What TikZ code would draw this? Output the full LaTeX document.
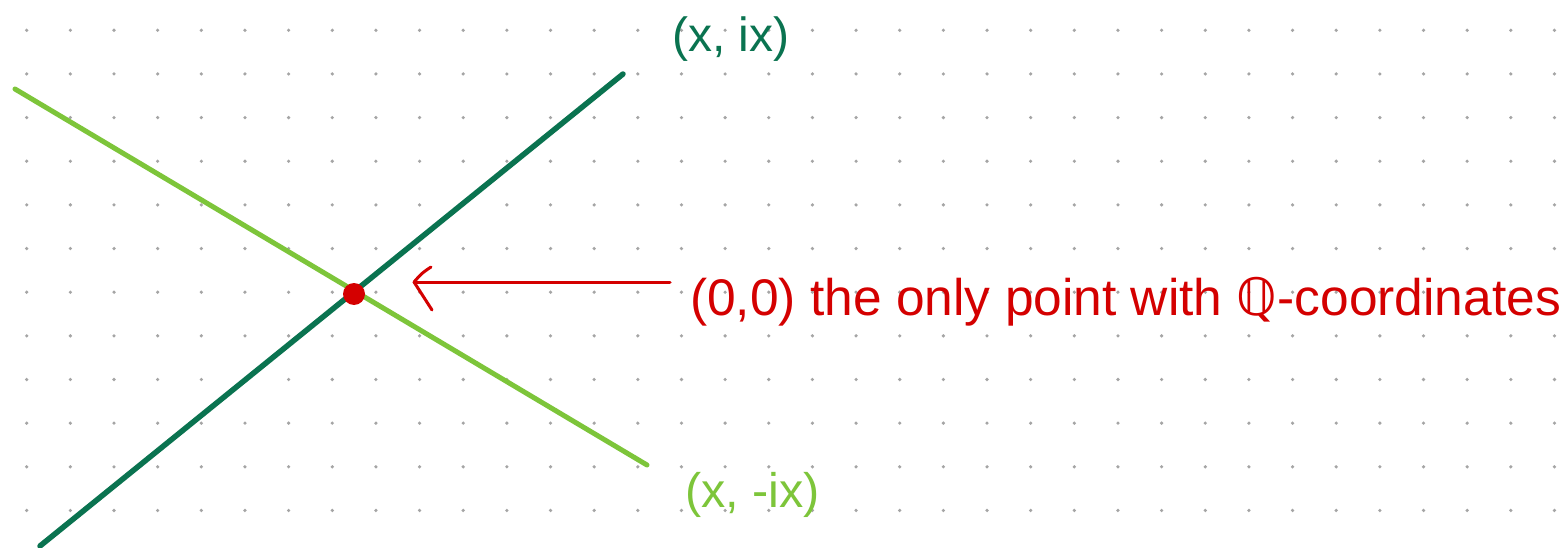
\documentclass[tikz,border=0pt]{standalone}
\usepackage{fontspec}
\setmainfont{Liberation Sans}
\newfontfamily\symfont{DejaVu Sans}
\definecolor{dkgreen}{RGB}{10,115,80}
\definecolor{ltgreen}{RGB}{125,197,58}
\definecolor{myred}{RGB}{212,0,0}
\definecolor{dotgray}{RGB}{165,165,165}
\begin{document}
\begin{tikzpicture}[x=1pt,y=-1pt,
  gdot/.style={fill=dotgray,draw=none},
  lineA/.style={draw=dkgreen,line width=5.5pt,line cap=round},
  lineB/.style={draw=ltgreen,line width=5pt,line cap=round},
  redline/.style={draw=myred,line width=3pt,line cap=round,line join=round},
  lbl/.style={inner sep=0pt,anchor=base west}]
\useasboundingbox (0,0) rectangle (1564,548);
\fill[white] (0,0) rectangle (1564,548);
\foreach \i in {0,...,35}{
  \foreach \j in {0,...,11}{
    \fill[gdot] ({26.7+43.65*\i},{30.3+43.65*\j}) circle (1.8);
  }
}
\coordinate (a1) at (40,546);
\coordinate (a2) at (623,74);
\coordinate (b1) at (15,89);
\coordinate (b2) at (647,465);
\draw[lineB] (b1) -- (b2);
\draw[lineA] (a1) -- (a2);
\node[circle,fill=myred,inner sep=0pt,minimum size=22pt] (origin) at (354,294) {};
\coordinate (tip) at (414,282);
\coordinate (tail) at (670,282);
\coordinate (h1) at (431,267);
\coordinate (h2) at (432,310);
\draw[redline] (tail) -- (tip);
\draw[redline] (h1) .. controls (422,273) .. (tip) -- (h2);
\node[lbl,text=myred,font=\fontsize{51.5}{60}\selectfont] (txt) at (690,315) {(0,0) the only point with {\symfont ℚ}-coordinates};
\node[lbl,text=dkgreen,font=\fontsize{48}{56}\selectfont] (la) at (672,52) {(x, ix)};
\node[lbl,text=ltgreen,font=\fontsize{48.5}{56}\selectfont] (lb) at (685,507) {(x, -ix)};
\end{tikzpicture}
\end{document}
